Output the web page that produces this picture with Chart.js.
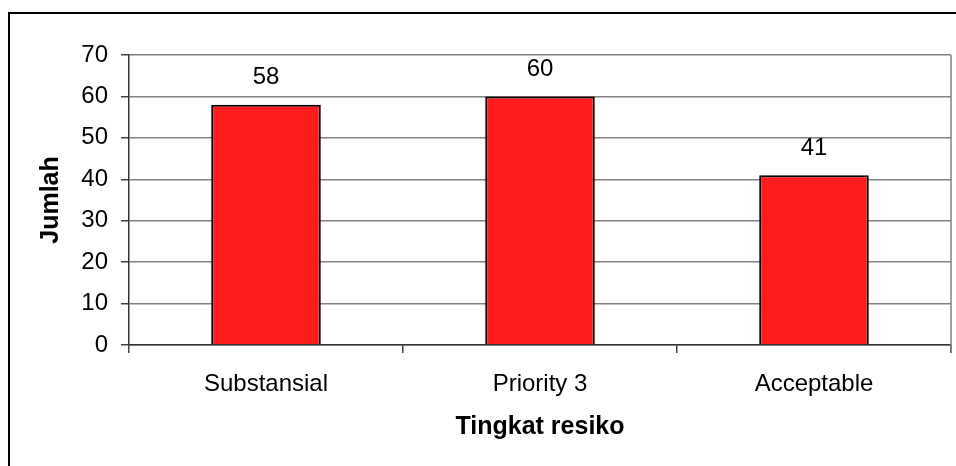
<!DOCTYPE html>
<html>
<head>
<meta charset="utf-8">
<script src="https://cdn.jsdelivr.net/npm/chart.js@4/dist/chart.umd.min.js"></script>
<style>
  body { margin: 0; background: #fff; }
  #wrap { width: 956px; height: 466px; }
</style>
</head>
<body>
<div id="wrap"><canvas id="riskChart" width="956" height="466"></canvas></div>
<script>
// Data
const categories = ['Substansial', 'Priority 3', 'Acceptable'];
const jumlah = [58, 60, 41];
const yTicks = [0, 10, 20, 30, 40, 50, 60, 70];

const FONT = "'Liberation Sans', Arial, sans-serif";

// Outer frame (top and left edge of the original picture box)
const framePlugin = {
    id: 'frame',
    afterDraw(chart) {
        const ctx = chart.ctx;
        ctx.save();
        ctx.strokeStyle = '#000';
        ctx.lineWidth = 2;
        ctx.beginPath();
        ctx.moveTo(9, 466);
        ctx.lineTo(9, 13);
        ctx.lineTo(956, 13);
        ctx.stroke();
        // right edge of the plot area
        const a = chart.chartArea;
        ctx.strokeStyle = '#808080';
        ctx.lineWidth = 1.5;
        ctx.beginPath();
        ctx.moveTo(a.right, a.top);
        ctx.lineTo(a.right, a.bottom + 8);
        ctx.stroke();
        ctx.restore();
    }
};

// Value labels above the bars
const valueLabels = {
    id: 'valueLabels',
    afterDatasetsDraw(chart) {
        const ctx = chart.ctx;
        const meta = chart.getDatasetMeta(0);
        ctx.save();
        ctx.font = '24px ' + FONT;
        ctx.fillStyle = '#000';
        ctx.textAlign = 'center';
        ctx.textBaseline = 'middle';
        meta.data.forEach(function(bar, i) {
            ctx.fillText(jumlah[i], bar.x, bar.y - 27);
        });
        ctx.restore();
    }
};

const ctx = document.getElementById('riskChart').getContext('2d');
new Chart(ctx, {
    type: 'bar',
    data: {
        labels: categories,
        datasets: [{
            label: 'Jumlah',
            data: jumlah,
            backgroundColor: '#ff1c1c',
            borderColor: '#000',
            borderWidth: 2,
            barPercentage: 0.4,
            categoryPercentage: 1
        }]
    },
    options: {
        responsive: false,
        animation: false,
        layout: { padding: { left: 0, top: 55, right: 5, bottom: 0 } },
        plugins: {
            legend: { display: false },
            tooltip: { enabled: false }
        },
        scales: {
            x: {
                offset: true,
                grid: {
                    offset: true,
                    drawOnChartArea: false,
                    tickLength: 8,
                    color: '#404040',
                    lineWidth: 1.5
                },
                border: { color: '#333', width: 1.5 },
                ticks: {
                    font: { family: FONT, size: 24 },
                    color: '#000',
                    padding: 17,
                    maxRotation: 0
                },
                title: {
                    display: true,
                    text: 'Tingkat resiko',
                    font: { family: FONT, size: 25, weight: 'bold' },
                    color: '#000',
                    padding: { top: 0, bottom: 24 }
                },
                afterFit(scale) { scale.height = 121; }
            },
            y: {
                min: 0,
                max: 70,
                afterBuildTicks(scale) {
                    scale.ticks = yTicks.map(v => ({ value: v }));
                },
                grid: {
                    color: '#808080',
                    lineWidth: 1.5,
                    tickLength: 8,
                    tickColor: '#404040'
                },
                border: { color: '#333', width: 1.5 },
                ticks: {
                    font: { family: FONT, size: 24 },
                    color: '#000',
                    padding: 13
                },
                title: {
                    display: true,
                    text: 'Jumlah',
                    font: { family: FONT, size: 25, weight: 'bold' },
                    color: '#000',
                    padding: { top: 36, bottom: 0 }
                },
                afterFit(scale) { scale.width = 129; }
            }
        }
    },
    plugins: [framePlugin, valueLabels]
});
</script>
</body>
</html>
